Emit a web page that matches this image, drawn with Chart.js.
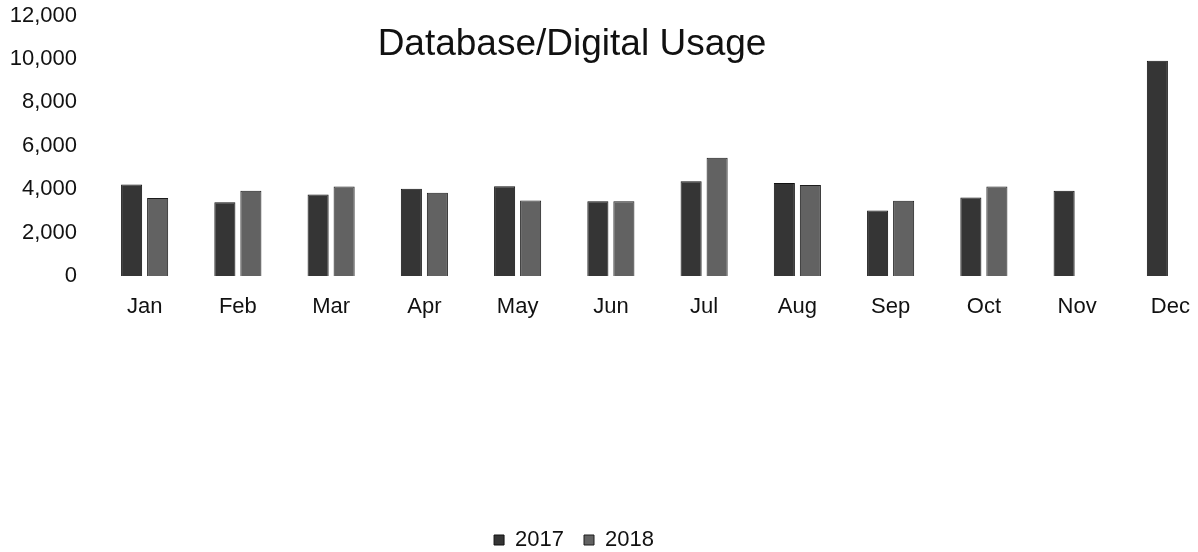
<!DOCTYPE html>
<html>
<head>
<meta charset="utf-8">
<script src="https://cdn.jsdelivr.net/npm/chart.js@4/dist/chart.umd.min.js"></script>
<style>
  html, body { margin: 0; padding: 0; background: #fff; overflow: hidden; }
  body { width: 1198px; height: 552px; position: relative; }
  #usage { position: absolute; left: -69px; top: 0; }
</style>
</head>
<body>
<canvas id="usage" width="1286" height="561"></canvas>
<script>
const chartTitle = "Database/Digital Usage";
const months = ["Jan", "Feb", "Mar", "Apr", "May", "Jun", "Jul", "Aug", "Sep", "Oct", "Nov", "Dec"];
const usage2017 = [4210, 3400, 3760, 4020, 4130, 3440, 4370, 4280, 3020, 3620, 3930, 9910];
const usage2018 = [3590, 3930, 4120, 3840, 3480, 3440, 5450, 4190, 3470, 4120, null, null];
const yTicks = [0, 2000, 4000, 6000, 8000, 10000, 12000];

const FONT = "'Liberation Sans', Arial, sans-serif";

// title sits inside the plot area like the excel original, so draw it ourselves
const titlePlugin = {
  id: "innerTitle",
  afterDraw(chart) {
    const ctx = chart.ctx;
    ctx.save();
    ctx.font = "37px " + FONT;
    ctx.fillStyle = "#111";
    ctx.textAlign = "center";
    ctx.textBaseline = "alphabetic";
    ctx.fillText(chartTitle, chart.width / 2 - 2, 55);
    ctx.restore();
  },
};

const ctx = document.getElementById("usage").getContext("2d");
new Chart(ctx, {
  type: "bar",
  data: {
    labels: months,
    datasets: [
      {
        label: "2017",
        data: usage2017,
        backgroundColor: "#353535",
        borderColor: "#111",
        borderWidth: 1,
      },
      {
        label: "2018",
        data: usage2018,
        backgroundColor: "#626262",
        borderColor: "#1c1c1c",
        borderWidth: 1,
      },
    ],
  },
  options: {
    responsive: false,
    animation: false,
    layout: { padding: 0 },
    datasets: {
      bar: { categoryPercentage: 0.558, barPercentage: 0.81 },
    },
    scales: {
      x: {
        grid: { display: false, drawTicks: false },
        border: { display: false },
        ticks: {
          padding: 18,
          color: "#111",
          font: { family: FONT, size: 22 },
          maxRotation: 0,
        },
        afterFit: (scale) => {
          scale.height = 233;
        },
      },
      y: {
        min: 0,
        max: 12000,
        afterBuildTicks: (scale) => {
          scale.ticks = yTicks.map((v) => ({ value: v }));
        },
        grid: { display: false, drawTicks: false },
        border: { display: false },
        ticks: {
          padding: 21,
          color: "#111",
          font: { family: FONT, size: 22 },
          callback: (v) => v.toLocaleString("en-US"),
        },
        afterFit: (scale) => {
          scale.width = 167;
          scale.paddingTop = 15.5; // top tick sits right at the canvas top
          scale.paddingBottom = 0;
        },
      },
    },
    plugins: {
      title: { display: false },
      tooltip: { enabled: false },
      legend: {
        position: "bottom",
        labels: {
          boxWidth: 10,
          boxHeight: 10,
          padding: 20,
          color: "#111",
          font: { family: FONT, size: 22 },
        },
      },
    },
  },
  plugins: [titlePlugin],
});
</script>
</body>
</html>
